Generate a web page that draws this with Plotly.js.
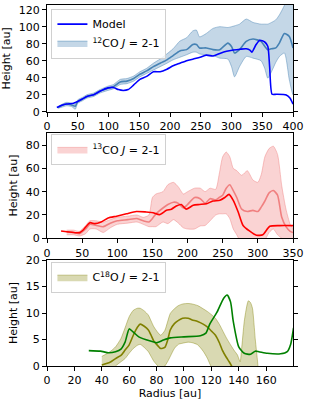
<!DOCTYPE html>
<html>
<head>
<meta charset="utf-8">
<script src="https://cdn.plot.ly/plotly-3.0.1.min.js"></script>
<style>html,body{margin:0;padding:0;background:#fff;}#chart{width:309px;height:402px;}</style>
</head>
<body>
<div id="chart"></div>
<script>
// ---- Panel 1: 12CO J=2-1 ----
const r12 = [18,25,32,40,46,50,58,65,76,86,99,108,119,130,141,151,162,173,184,195,205,216,227,237,243,248,259,270,281,294,300,305,313,324,335,348,354,359,365,372,378,386,394,400];
const obs12 = [5,7.5,9,8,6.5,12,15,18,20,24,27.5,29.5,35,36,39,44,48,53,57,61,66,71.5,73,79,79,75,75,73,73,80.7,76.8,69,73,82.7,85.5,82.7,77,73,74,75,81,92,88.6,75];
const lo12 = [4,5.5,7,6,3,10,13,16,18,22,25,27,32,33,36,41,45,49,53,57,61,64,67,70,70,68,67,66,63,62,53,41,53,65,63,60,51,39.5,47,58,65,69,37.5,20];
const hi12 = [6,9,11,10,9,14,17,20,22,26,30,32,38,39,42,47,51,57,62,68,74,83,87,95,96,88,92,98,100,99,100,101,103,109,105,103,103,103,105,108,114,125,140,140];
const rModel12 = [16,24,32,43,50,65,76,86,99,108,116,124,132,141,151,162,173,184,195,205,216,227,238,249,259,270,281,292,303,314,324,330,333,340,346,354,359,362,366,373,389,395,400];
const hModel12 = [5,7.5,9,10,12,18,20,24,28,28.5,26,25,26,31.5,38,41.5,47,47,50,54,57,60,62,64,66.5,65.5,68.5,71,72.5,73.5,74,72.5,70,79,84,82,77,53,20.5,20.5,19.7,16,9];

// ---- Panel 2: 13CO J=2-1 ----
const r13 = [28,38,46,55,61,70,80,90,100,115,128,137,145,150,155,165,172,180,187,194,200,210,218,225,232,240,245,250,255,260,265,270,277,285,293,300,305,310,316,322,328,334,340,346,350];
const obs13 = [5.5,5,4,8,12,11,10,13,15,16,17,15,14,17,21,26,29,31,30,26,29,35,34,30,34,33,35,37,43,46,41,35,25,23,24,23,27,32,39,41,37,18,10,6,5];
const lo13 = [3,3,2,4,8,8,5,9,12,13,14,12,10,10,10,14,12.6,16,13,9,8,8,10.6,11,15,20,21,21,21,17,8,3,-5,-8,-6,-2,0,-1,5,8,3,0,-3,-5,-5];
const hi13 = [7,7,6,11,15,15,14,16,18,19,20,18,20,35,38,40,46,48,44,38,40,43,43,40,43,42,55,70,74,70,60,58,54,58,50,48,55,70,77,79,72,45,25,12,8];
const rModel13 = [20,46.5,51,61,68,77,87,99,113,127,141,151,160,170,177,184,191,198,208,217,227,236,246,253,259,265,272,279,288,298,307,317,331,350];
const hModel13 = [6.3,4.9,6.9,13.4,12.6,14,17.4,19,21,23,22.6,22,20.3,24,25,27.7,29,25,28.3,29,29.7,32,32.6,35,37.7,32.6,22.6,11,6.3,2.6,3.1,10.3,10.9,10.9];

// ---- Panel 3: C18O J=2-1 ----
const rBand18 = [40,46,50,54,57,60,63,66,68,71,74,76,78,81,83,86,88,90,93,96,99,103,106,110,114,117,120,123,126,128,131,134,137,139,141,142,144,146,147,148.5,150,152,154];
const lo18 = [-1,-1,0,0.8,1.4,2.4,3.3,3.9,4.1,3.5,2.7,1.8,0.9,0,-0.5,0,0.8,1.8,3.3,4.1,4.3,4.5,4.4,4,2.8,1.5,-0.2,-1,-1,-1,-1,-1,-1,-1,-1,-1,-1,-1,-1,-1,-1,-1,-1];
const hi18 = [1.8,2.7,3.6,5.2,7.2,9.3,10.5,10.9,10.9,10.4,9.6,8.5,7.4,6.3,5.8,6.7,8.3,9.9,10.8,11.4,11.7,11.8,11.7,11.4,10.8,10.3,9.7,9,7.8,6.8,5.3,4,2.8,2.1,0.8,3,8.4,11.5,12.3,12,10.9,5.2,0];
const rObs18 = [40,46,50,54,57,60,63,66,68,71,74,76,78,81,83,86,88,90,93,96,99,103,106,110,114,117,120,123,126,128,131,133,135];
const obs18 = [0.2,0.7,1.4,2,3,4,5.8,7.3,7.9,7.5,6.8,5.8,4.7,3.8,3.3,3.5,4.8,6.8,8,8.6,9,9,8.7,8.4,7.9,7.4,6.6,5.8,4.3,3,1.6,0.8,-0.1];
const rModel18 = [30.5,39,45,50,54,57,60,63,67,75.5,80,85,90,100,112,116,119,124,129,131.5,134,136,140,144,148.6,152,154.7,160.8,170.5,175.4,177.8,180];
const hModel18 = [2.9,2.8,2.5,2.7,3.2,4.5,7,6.4,5.5,4.7,4.4,4.9,5.3,5.5,5.7,6.2,8,10.1,12.8,13.4,12.1,8.4,3.6,2.4,2.2,2.8,2.7,2.4,2.3,2.7,4,7.2];

const labels = {
  model: 'Model',
  co12: '<sup>12</sup>CO <i>J</i> = 2-1',
  co13: '<sup>13</sup>CO <i>J</i> = 2-1',
  c18o: 'C<sup>18</sup>O <i>J</i> = 2-1'
};

function band(r, lo, hi, fillcol, edgecol, name, xa, ya, leg) {
  return {
    x: r.concat(r.slice().reverse()),
    y: hi.concat(lo.slice().reverse()),
    type: 'scatter', mode: 'lines', fill: 'toself',
    fillcolor: fillcol, line: {color: edgecol, width: 1, shape: 'spline', smoothing: 0.6},
    name: name, xaxis: xa, yaxis: ya, legend: leg, legendrank: 2, hoverinfo: 'skip'
  };
}
function line(r, h, col, name, xa, ya, leg, show) {
  return {
    x: r, y: h, type: 'scatter', mode: 'lines',
    line: {color: col, width: 1.6, shape: 'spline', smoothing: 0.6},
    name: name, xaxis: xa, yaxis: ya, legend: leg, showlegend: show, legendrank: 1
  };
}

const traces = [
  band(r12, lo12, hi12, 'rgba(70,130,180,0.32)', 'rgba(70,130,180,0.45)', labels.co12, 'x', 'y', 'legend'),
  line(r12, obs12, '#4682b4', 'obs12', 'x', 'y', 'legend', false),
  line(rModel12, hModel12, '#0000ff', labels.model, 'x', 'y', 'legend', true),

  band(r13, lo13, hi13, 'rgba(240,128,128,0.35)', 'rgba(240,128,128,0.45)', labels.co13, 'x2', 'y2', 'legend2'),
  line(r13, obs13, '#f08080', 'obs13', 'x2', 'y2', 'legend2', false),
  line(rModel13, hModel13, '#ff0000', 'model13', 'x2', 'y2', 'legend2', false),

  band(rBand18, lo18, hi18, 'rgba(128,128,0,0.3)', 'rgba(128,128,0,0.4)', labels.c18o, 'x3', 'y3', 'legend3'),
  line(rObs18, obs18, '#808000', 'obs18', 'x3', 'y3', 'legend3', false),
  line(rModel18, hModel18, '#008000', 'model18', 'x3', 'y3', 'legend3', false)
];

const font = {family: 'DejaVu Sans, sans-serif', size: 11, color: '#000'};
function ax(extra) {
  return Object.assign({
    showline: true, linecolor: '#000', linewidth: 1, mirror: true,
    ticks: 'outside', ticklen: 4, tickwidth: 1, tickcolor: '#000',
    showgrid: false, zeroline: false, tickfont: font, tick0: 0
  }, extra);
}
const legStyle = {
  x: 0.018, xanchor: 'left', yanchor: 'top',
  bgcolor: 'rgba(255,255,255,0.8)', bordercolor: '#d0d0d0', borderwidth: 1,
  font: font, tracegroupgap: 0
};

const layout = {
  width: 309, height: 402,
  margin: {l: 47, r: 16, t: 5, b: 36},
  paper_bgcolor: '#fff', plot_bgcolor: '#fff',
  font: font,
  xaxis: ax({domain: [0, 1], anchor: 'y', range: [0, 400], dtick: 50}),
  yaxis: ax({domain: [0.7044, 1], anchor: 'x', range: [0, 125.5], dtick: 20, mirror: 'ticks',
             title: {text: 'Height [au]', font: font, standoff: 5}}),
  xaxis2: ax({domain: [0, 1], anchor: 'y2', range: [0, 350], dtick: 50}),
  yaxis2: ax({domain: [0.3537, 0.6463], anchor: 'x2', range: [0, 90.6], dtick: 20, mirror: 'ticks',
              title: {text: 'Height [au]', font: font, standoff: 5}}),
  xaxis3: ax({domain: [0, 1], anchor: 'y3', range: [0, 179.6], dtick: 20,
              title: {text: 'Radius [au]', font: font, standoff: 0}}),
  yaxis3: ax({domain: [0, 0.2936], anchor: 'x3', range: [0, 20], dtick: 5, mirror: 'ticks',
              title: {text: 'Height [au]', font: font, standoff: 5}}),
  legend: Object.assign({}, legStyle, {y: 0.99}),
  legend2: Object.assign({}, legStyle, {y: 0.643}),
  legend3: Object.assign({}, legStyle, {y: 0.289}),
  showlegend: true
};

Plotly.newPlot('chart', traces, layout, {displayModeBar: false, staticPlot: true});
</script>
</body>
</html>
